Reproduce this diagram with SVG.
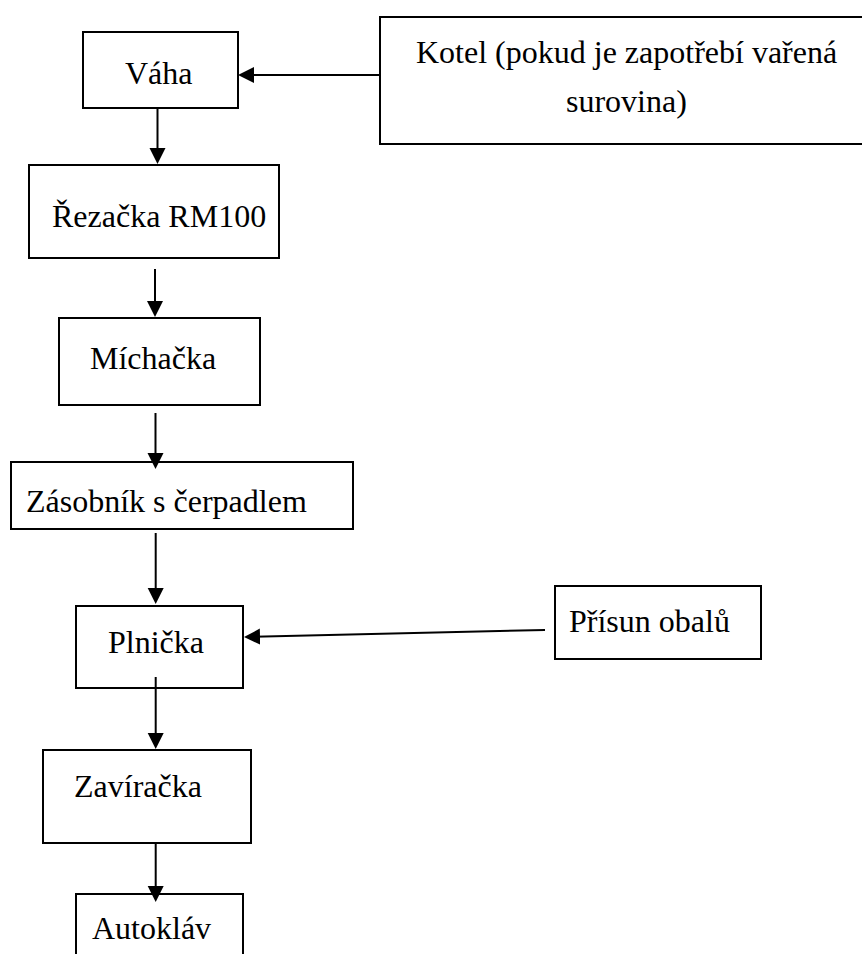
<svg xmlns="http://www.w3.org/2000/svg" width="862" height="954" viewBox="0 0 862 954">
<style>
.box{fill:#fff;stroke:#000;stroke-width:2}
.lbl{font-family:"Liberation Serif","Times New Roman",serif;font-size:32px;fill:#000}
.edge{stroke:#000;stroke-width:2;fill:none}
</style>
<defs>
<marker id="ah" markerUnits="userSpaceOnUse" markerWidth="17" markerHeight="17" refX="8" refY="8" orient="auto">
<path d="M0,0 L16,8 L0,16 z" fill="#000"/>
</marker>
</defs>
<rect width="862" height="954" fill="#fff"/>
<g id="vaha"><rect class="box" x="83" y="32" width="155" height="76"/><text class="lbl" x="125" y="84">Váha</text></g>
<g id="kotel"><rect class="box" x="380" y="17" width="500" height="127"/><text class="lbl" x="416" y="63">Kotel (pokud je zapotřebí vařená</text><text class="lbl" x="566" y="112">surovina)</text></g>
<g id="rezacka"><rect class="box" x="29" y="165" width="250" height="93"/><text class="lbl" x="52" y="227">Řezačka RM100</text></g>
<g id="michacka"><rect class="box" x="59" y="318" width="201" height="87"/><text class="lbl" x="90" y="369">Míchačka</text></g>
<g id="zasobnik"><rect class="box" x="11" y="462" width="342" height="67"/><text class="lbl" x="26" y="512">Zásobník s čerpadlem</text></g>
<g id="plnicka"><rect class="box" x="76" y="606" width="167" height="82"/><text class="lbl" x="108" y="653">Plnička</text></g>
<g id="prisun"><rect class="box" x="555" y="586" width="206" height="73"/><text class="lbl" x="569" y="632">Přísun obalů</text></g>
<g id="zaviracka"><rect class="box" x="43" y="750" width="208" height="93"/><text class="lbl" x="74" y="797">Zavíračka</text></g>
<g id="autoklav"><rect class="box" x="76" y="894" width="167" height="80"/><text class="lbl" x="92" y="939">Autokláv</text></g>
<g id="connectors">
<path class="edge" marker-end="url(#ah)" d="M380,75 L246,75"/>
<path class="edge" marker-end="url(#ah)" d="M157.5,108 L157.5,156"/>
<path class="edge" marker-end="url(#ah)" d="M155,269 L155,309"/>
<path class="edge" marker-end="url(#ah)" d="M155.5,413 L155.5,461"/>
<path class="edge" marker-end="url(#ah)" d="M155.7,533 L155.7,596"/>
<path class="edge" marker-end="url(#ah)" d="M545,630 L252,636.8"/>
<path class="edge" marker-end="url(#ah)" d="M155.7,677 L155.7,741"/>
<path class="edge" marker-end="url(#ah)" d="M155.7,843 L155.7,894"/>
</g>
</svg>
